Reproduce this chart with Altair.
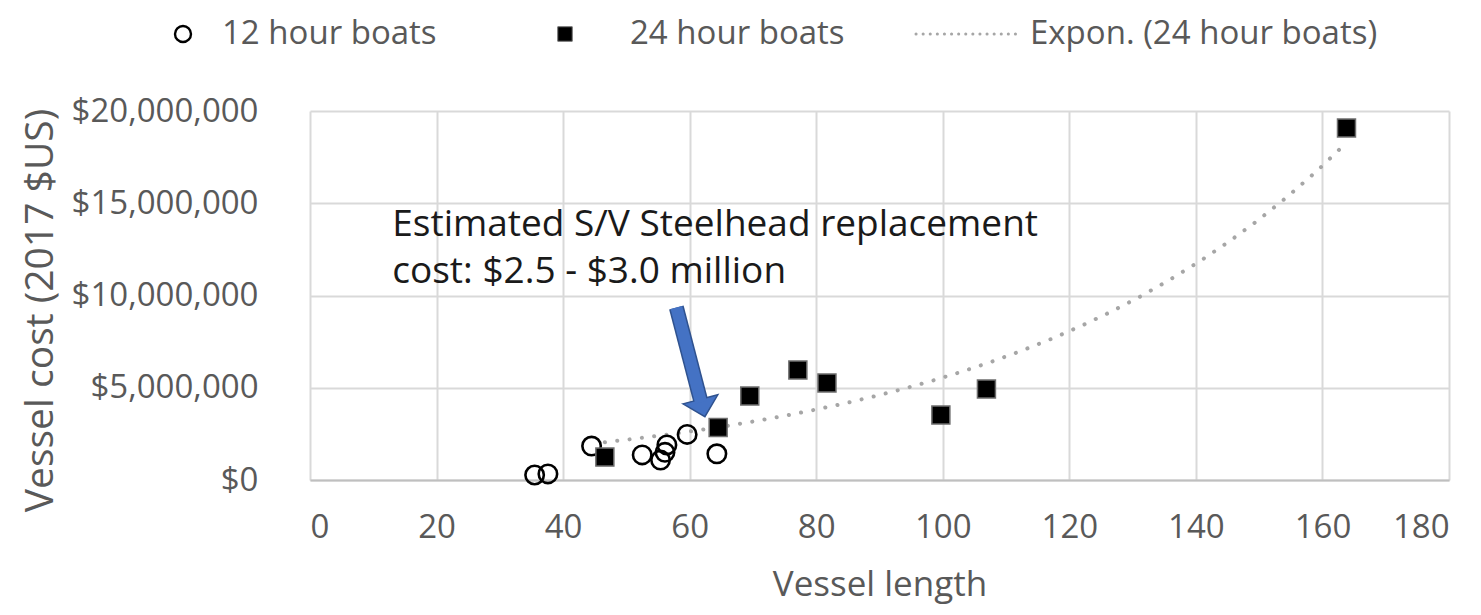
import altair as alt
import pandas as pd

# ---------------- data ----------------
len_12 = [35.5, 37.6, 44.5, 52.5, 55.4, 56.1, 56.4, 59.6, 64.3]
cost_12 = [270000, 330000, 1840000, 1360000, 1080000, 1500000, 1900000, 2470000, 1420000]

len_24 = [46.6, 64.5, 69.5, 77.1, 81.7, 99.7, 106.9, 163.8]
cost_24 = [1240000, 2850000, 4550000, 5960000, 5260000, 3520000, 4930000, 19080000]

x_ticks = [0, 20, 40, 60, 80, 100, 120, 140, 160, 180]
y_ticks = [0, 5000000, 10000000, 15000000, 20000000]

legend_labels = ["12 hour boats", "24 hour boats", "Expon. (24 hour boats)"]
note_lines = ["Estimated S/V Steelhead replacement", "cost: $2.5 - $3.0 million"]

# annotation anchor points (data units)
note_x = [13.0, 13.0]
note_y = [13820000, 11270000]
arrow_tail = (57.9, 9350000)
arrow_shaft_end = (61.8, 4220000)
arrow_head = (62.05, 3900000)

FONT = "Open Sans"
GRAY_TXT = "#595959"
W, H = 1139, 369

df12 = pd.DataFrame({"length": len_12, "cost": cost_12})
df24 = pd.DataFrame({"length": len_24, "cost": cost_24})

xs = alt.Scale(domain=[0, 180], nice=False)
ys = alt.Scale(domain=[0, 20000000], nice=False)

x_axis = alt.Axis(values=x_ticks, title="Vessel length", grid=True, gridColor="#d9d9d9",
                  gridWidth=2, domain=True, domainColor="#bfbfbf", domainWidth=2,
                  ticks=False, tickSize=0, labelPadding=47, labelBaseline="middle",
                  titleY=115, titleBaseline="alphabetic", titleFontSize=35)
y_axis = alt.Axis(values=y_ticks, format="$,.0f", title="Vessel cost (2017 $US)", grid=True,
                  gridColor="#d9d9d9", gridWidth=2, domain=False, ticks=False, tickSize=0,
                  labelPadding=52, labelLimit=400, titleX=-270, titleY=199, titleAlign="center",
                  titleBaseline="middle", titleAngle=270, titleFontSize=39)

X = alt.X("length:Q", scale=xs, axis=x_axis)
Y = alt.Y("cost:Q", scale=ys, axis=y_axis)

trend = alt.Chart(df24).transform_calculate(
    logy="log(datum.cost)"
).transform_regression(
    "length", "logy", method="poly", order=1
).transform_calculate(
    cost="exp(datum.logy)"
).mark_line(color="#a6a6a6", strokeWidth=4, strokeDash=[0.1, 12.3], strokeCap="round").encode(x=X, y=Y)

circles = alt.Chart(df12).mark_point(shape="circle", size=340, filled=False, color="black",
                                     strokeWidth=2.6, opacity=1).encode(x=X, y=Y)

squares = alt.Chart(df24).mark_point(shape="square", size=324, filled=True, fill="black",
                                     stroke="#6e6e6e", strokeWidth=1.5, opacity=1).encode(x=X, y=Y)

note_df = pd.DataFrame({"length": note_x, "cost": note_y, "txt": note_lines})
note = alt.Chart(note_df).mark_text(font=FONT, fontSize=37, color="#1a1a1a", align="left",
                                    baseline="middle").encode(x=X, y=Y, text="txt:N")

arrow_df = pd.DataFrame({"length": [arrow_tail[0]], "cost": [arrow_tail[1]],
                         "length2": [arrow_shaft_end[0]], "cost2": [arrow_shaft_end[1]]})
shaft_dark = alt.Chart(arrow_df).mark_rule(color="#2f528f", strokeWidth=15, strokeCap="butt").encode(
    x=X, y=Y, x2="length2:Q", y2="cost2:Q")
head_df = pd.DataFrame({"length": [arrow_head[0]], "cost": [arrow_head[1]]})
head = alt.Chart(head_df).mark_point(shape="M-1,-0.5L1,-0.5L0,0.5Z", size=1296, filled=True,
                                     fill="#4472c4", stroke="#2f528f", strokeWidth=1.5,
                                     angle=345.4, opacity=1).encode(x=X, y=Y)
shaft = alt.Chart(arrow_df).mark_rule(color="#4472c4", strokeWidth=12, strokeCap="butt").encode(
    x=X, y=Y, x2="length2:Q", y2="cost2:Q")

# ---------------- legend (top) ----------------
LEG_Y = -77
leg_circle = alt.Chart(pd.DataFrame({"a": [0]})).mark_point(
    shape="circle", size=256, filled=False, color="black", strokeWidth=2.4, opacity=1
).encode(x=alt.value(-127), y=alt.value(LEG_Y))
leg_square = alt.Chart(pd.DataFrame({"a": [0]})).mark_point(
    shape="square", size=210, filled=True, fill="black", stroke="#6e6e6e", strokeWidth=1, opacity=1
).encode(x=alt.value(255), y=alt.value(LEG_Y))
leg_line = alt.Chart(pd.DataFrame({"a": [0]})).mark_rule(
    color="#a6a6a6", strokeWidth=3, strokeDash=[0.1, 7], strokeCap="round"
).encode(x=alt.value(606), x2=alt.value(710), y=alt.value(LEG_Y))

leg_text_layers = []
for lbl, px in zip(legend_labels, [-88, 320, 720]):
    leg_text_layers.append(
        alt.Chart(pd.DataFrame({"lbl": [lbl]})).mark_text(
            font=FONT, fontSize=33, color=GRAY_TXT, align="left", baseline="middle"
        ).encode(x=alt.value(px), y=alt.value(LEG_Y), text="lbl:N")
    )

chart = alt.layer(
    trend, circles, squares, note, shaft_dark, head, shaft,
    leg_circle, leg_square, leg_line, *leg_text_layers
).properties(
    width=W, height=H,
    autosize=alt.AutoSizeParams(type="none"),
    padding={"left": 302, "top": 103, "right": 24, "bottom": 127},
).configure_view(stroke=None).configure_axis(
    labelFont=FONT, titleFont=FONT, labelColor=GRAY_TXT, titleColor=GRAY_TXT,
    labelFontSize=33, titleFontWeight="normal"
)

chart.save("out.html", embed_options={"renderer": "svg", "actions": False})
